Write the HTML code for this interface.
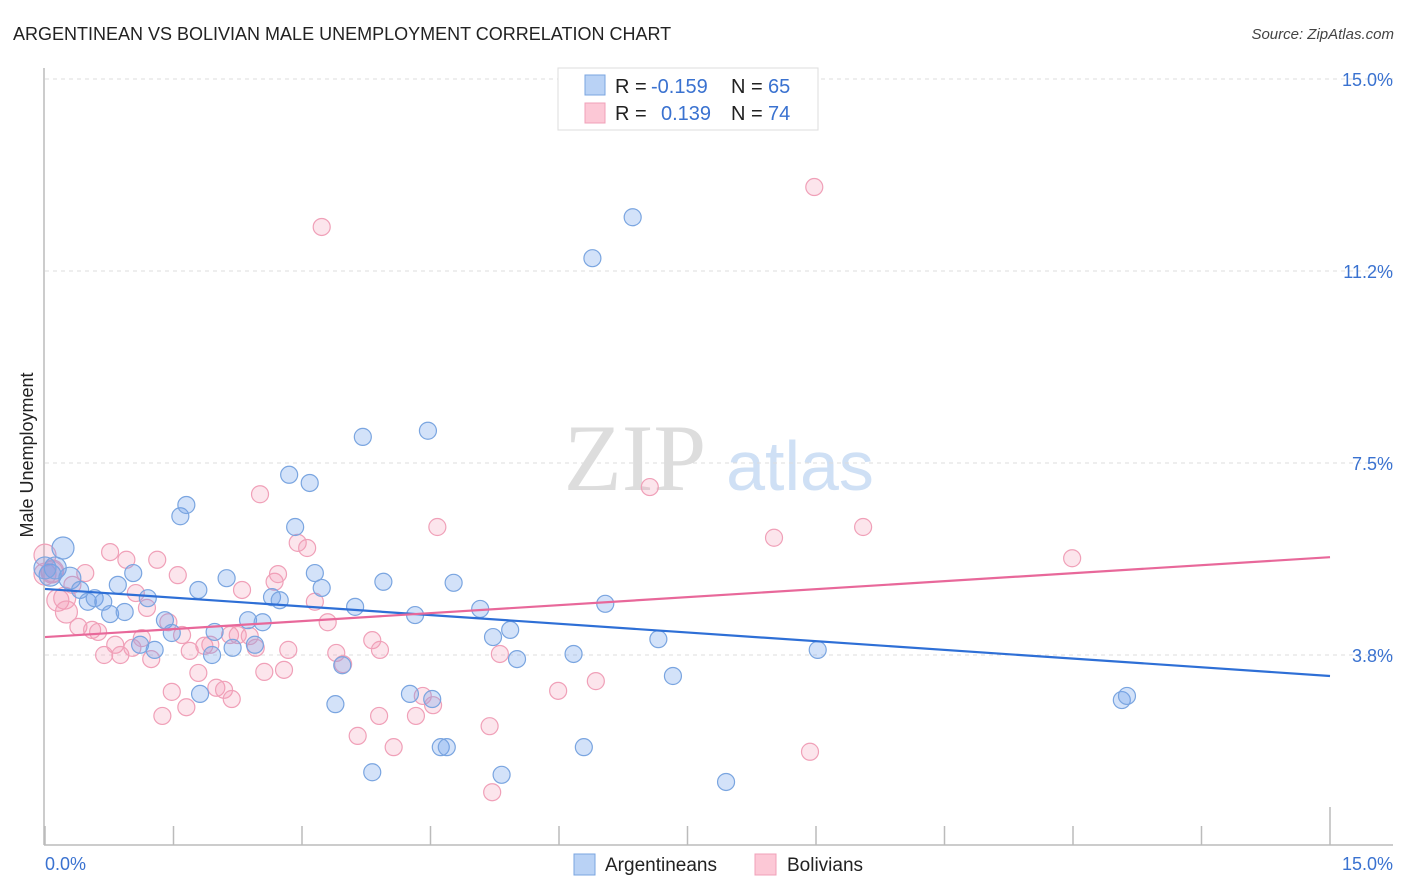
<!DOCTYPE html>
<html><head><meta charset="utf-8"><style>
body{margin:0;background:#fff;font-family:"Liberation Sans",sans-serif;}
svg{display:block}
</style></head><body>
<svg id="chart" width="1406" height="892" xmlns="http://www.w3.org/2000/svg">
<text x="13" y="40" font-size="18" fill="#222">ARGENTINEAN VS BOLIVIAN MALE UNEMPLOYMENT CORRELATION CHART</text>
<text x="1394" y="39" font-size="15" fill="#444" font-style="italic" text-anchor="end">Source: ZipAtlas.com</text>
<text x="33" y="455" font-size="18" fill="#222" text-anchor="middle" transform="rotate(-90 33 455)">Male Unemployment</text>
<g>
<text x="635" y="490" font-size="95" fill="#ddd" font-family="Liberation Serif,serif" text-anchor="middle">ZIP</text>
<text x="800" y="490" font-size="70" fill="#cfe0f5" text-anchor="middle">atlas</text>
</g>
<g id="grid"></g>
<g id="axes"></g>
<g id="points"></g>
<g id="lines"></g>
<g>
<rect x="558" y="68" width="260" height="62" fill="#fff" stroke="#ddd"/>
<rect x="585" y="75" width="20" height="20" fill="#b9d2f5" stroke="#7aa5e0"/>
<rect x="585" y="103" width="20" height="20" fill="#fcc8d6" stroke="#f0a0b8"/>
<text x="615" y="93" font-size="20" fill="#222">R = </text><text x="651" y="93" font-size="20" fill="#3a72d0">-0.159</text>
<text x="731" y="93" font-size="20" fill="#222">N = </text><text x="768" y="93" font-size="20" fill="#3a72d0">65</text>
<text x="615" y="120" font-size="20" fill="#222">R = </text><text x="661" y="120" font-size="20" fill="#3a72d0">0.139</text>
<text x="731" y="120" font-size="20" fill="#222">N = </text><text x="768" y="120" font-size="20" fill="#3a72d0">74</text>
</g>
<g>
<rect x="574" y="854" width="21" height="21" fill="#b9d2f5" stroke="#7aa5e0"/>
<text x="605" y="871" font-size="19" fill="#222">Argentineans</text>
<rect x="755" y="854" width="21" height="21" fill="#fcc8d6" stroke="#f0a0b8"/>
<text x="787" y="871" font-size="19" fill="#222">Bolivians</text>
</g>
</svg>
<script>
const blueX=[0.21,0.06,0.12,0.29,0.41,0.50,0.58,0.68,0.76,0.85,0.93,1.03,1.11,1.20,1.28,1.40,1.48,1.58,1.65,1.79,1.81,1.95,1.98,2.12,2.19,2.37,2.45,2.54,2.65,2.74,2.85,2.92,3.09,3.15,3.23,3.39,3.47,3.62,3.71,3.82,3.95,4.26,4.32,4.47,4.52,4.62,4.69,4.77,5.08,5.23,5.33,5.43,5.51,6.17,6.29,6.39,6.54,6.86,7.16,7.33,7.95,9.02,12.57,12.63,0];
const blueY=[5.84,5.31,5.45,5.25,5.02,4.79,4.86,4.79,4.55,5.12,4.59,5.35,3.95,4.86,3.85,4.43,4.18,6.46,6.68,5.02,2.99,3.75,4.20,5.25,3.89,4.43,3.95,4.39,4.88,4.82,7.27,6.25,7.11,5.35,5.06,2.79,3.55,4.69,8.01,1.46,5.18,2.99,4.53,8.13,2.89,1.95,1.95,5.16,4.65,4.10,1.41,4.24,3.67,3.77,1.95,11.50,4.75,12.30,4.06,3.34,1.27,3.85,2.87,2.95,5.45];
const pinkX=[0,0.08,0.15,0.23,0.32,0.39,0.47,0.55,0.62,0.69,0.76,0.82,0.88,0.95,1.02,1.06,1.13,1.19,1.24,1.31,1.37,1.44,1.48,1.55,1.60,1.65,1.69,1.79,1.86,1.93,2.00,2.09,2.16,2.18,2.25,2.30,2.39,2.46,2.51,2.56,2.68,2.72,2.79,2.84,2.95,3.06,3.15,3.23,3.30,3.40,3.48,3.65,3.82,3.90,3.91,4.07,4.33,4.41,4.53,4.58,5.19,5.22,5.31,5.99,6.43,7.06,8.51,8.93,8.98,9.55,11.99,0.25,0,0.09];
const pinkY=[5.70,5.37,4.82,4.86,5.12,4.30,5.35,4.24,4.20,3.75,5.76,3.95,3.75,5.61,3.89,4.96,4.08,4.67,3.67,5.61,2.56,4.39,3.03,5.31,4.14,2.73,3.83,3.40,3.93,3.95,3.11,3.07,4.14,2.89,4.14,5.02,4.12,3.89,6.89,3.42,5.18,5.33,3.46,3.85,5.94,5.84,4.79,12.11,4.39,3.79,3.57,2.17,4.04,2.56,3.85,1.95,2.56,2.95,2.77,6.25,2.36,1.07,3.77,3.05,3.24,7.03,6.04,1.86,12.89,6.25,5.64,4.59,5.33,5.39];
const blueLine=[5.04,3.34];
const pinkLine=[4.10,5.66];
const yTicks=[3.75,7.5,11.25,15];
const yTickLabels=["3.8%","7.5%","11.2%","15.0%"];
const xTicks=[0,1.5,3,4.5,6,7.5,9,10.5,12,13.5,15];
const xTickLabels=["0.0%","15.0%"];
const NS="http://www.w3.org/2000/svg";
const sx=v=>45+v/15*1285;
const sy=v=>847-v/15*768;
function mk(tag,attrs,parent){const e=document.createElementNS(NS,tag);for(const k in attrs)e.setAttribute(k,attrs[k]);parent.appendChild(e);return e;}
const grid=document.getElementById('grid'),axes=document.getElementById('axes'),pts=document.getElementById('points'),lines=document.getElementById('lines');
yTicks.forEach((t,i)=>{
 const l=mk('line',{x1:45,x2:1393,y1:sy(t),y2:sy(t),stroke:'#ddd','stroke-dasharray':'4,4'},grid);
 
 
 const tx=mk('text',{x:1393,y:sy(t)+7,'font-size':18,fill:'#3a72d0','text-anchor':'end'},axes);
 tx.textContent=yTickLabels[i];
 
 
});
const ya=mk('line',{x1:44,x2:44,y1:68,y2:845,stroke:'#bbb','stroke-width':1.5},axes);


const xa=mk('line',{x1:44,x2:1393,y1:845,y2:845,stroke:'#bbb','stroke-width':1.5},axes);


xTicks.forEach((t,i)=>{
 const tk=mk('line',{x1:sx(t),x2:sx(t),y1:i==xTicks.length-1?807:826,y2:845,stroke:'#bbb','stroke-width':1.5},axes);
 
 
});
const xl0=mk('text',{x:45,y:870,'font-size':18,fill:'#3a72d0'},axes);xl0.textContent=xTickLabels[0];


const xl1=mk('text',{x:1393,y:870,'font-size':18,fill:'#3a72d0','text-anchor':'end'},axes);xl1.textContent=xTickLabels[1];


function drawPts(X,Y,fill,stroke,name){
 X.forEach((x,i)=>{
  const r=(x<0.3)?11:8.5;
  const c=mk('circle',{cx:sx(x),cy:sy(Y[i]),r:r,fill:fill,stroke:stroke,'stroke-width':1.2},pts);
  
  
 });
}
drawPts(pinkX,pinkY,'rgba(245,150,180,0.25)','#f0a0b8','bolivian-point');
drawPts(blueX,blueY,'rgba(110,160,235,0.3)','#7aa5e0','argentinean-point');
const bl=mk('line',{x1:sx(0),x2:sx(15),y1:sy(blueLine[0]),y2:sy(blueLine[1]),stroke:'#2e6fd6','stroke-width':2.2},lines);


const pl=mk('line',{x1:sx(0),x2:sx(15),y1:sy(pinkLine[0]),y2:sy(pinkLine[1]),stroke:'#e8689a','stroke-width':2.2},lines);


</script>
</body></html>
